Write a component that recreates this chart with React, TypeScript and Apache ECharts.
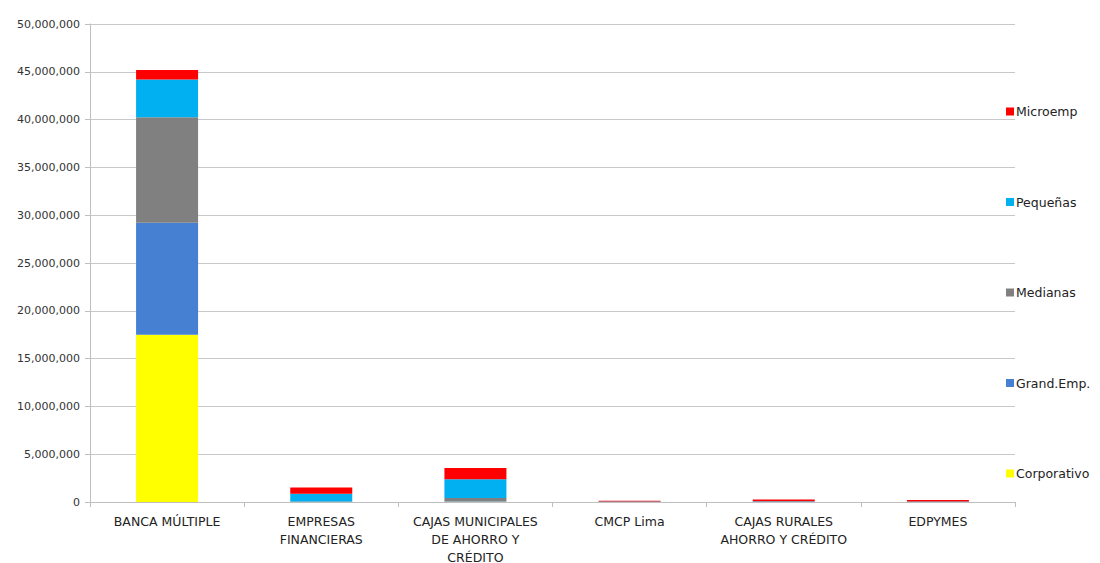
import React, { useEffect, useRef } from "react";
import * as echarts from "echarts";

const categories = [
  "BANCA MÚLTIPLE",
  "EMPRESAS\nFINANCIERAS",
  "CAJAS MUNICIPALES\nDE AHORRO Y\nCRÉDITO",
  "CMCP Lima",
  "CAJAS RURALES\nAHORRO Y CRÉDITO",
  "EDPYMES",
];
const corporativo = [17500000, 0, 20000, 0, 0, 0];
const grandEmp = [11700000, 0, 50000, 0, 0, 0];
const medianas = [11050000, 50000, 350000, 10000, 20000, 10000];
const pequenas = [3950000, 800000, 1950000, 30000, 60000, 40000];
const microemp = [1000000, 660000, 1180000, 100000, 170000, 150000];

const FONT = "DejaVu Sans";

export default function App() {
  const ref = useRef<HTMLDivElement>(null);
  useEffect(() => {
    const chart = echarts.init(ref.current!, null, { renderer: "svg" });
    const mk = (name: string, data: number[], color: string) => ({
      name,
      type: "bar",
      stack: "total",
      data,
      barWidth: 62,
      itemStyle: { color },
    });
    chart.setOption({
      animation: false,
      backgroundColor: "#ffffff",
      textStyle: { fontFamily: FONT },
      grid: {
        left: 90,
        right: 85,
        top: 24,
        bottom: 61,
        containLabel: false,
        outerBoundsMode: "none",
      },
      legend: {
        orient: "vertical",
        left: 1001,
        top: 100,
        itemWidth: 8,
        itemHeight: 8,
        itemGap: 77.5,
        icon: "rect",
        textStyle: { fontFamily: FONT, fontSize: 12.5, color: "#222", padding: [0, 0, 0, -3] },
        data: ["Microemp", "Pequeñas", "Medianas", "Grand.Emp.", "Corporativo"],
      },
      xAxis: {
        type: "category",
        data: categories,
        axisLine: { lineStyle: { color: "#bfbfbf" } },
        axisTick: { show: true, length: 5, lineStyle: { color: "#bfbfbf" } },
        axisLabel: { fontFamily: FONT, fontSize: 12.5, color: "#222", lineHeight: 18, margin: 10, interval: 0 },
      },
      yAxis: {
        type: "value",
        min: 0,
        max: 50000000,
        interval: 5000000,
        axisLine: { show: true, lineStyle: { color: "#bfbfbf" } },
        axisTick: { show: true, length: 5, lineStyle: { color: "#bfbfbf" } },
        axisLabel: {
          fontFamily: FONT,
          fontSize: 11,
          color: "#333",
          margin: 10,
          formatter: (v: number) => v.toLocaleString("en-US"),
        },
        splitLine: { lineStyle: { color: "#c8c8c8" } },
      },
      series: [
        mk("Corporativo", corporativo, "#FFFF00"),
        mk("Grand.Emp.", grandEmp, "#4580D2"),
        mk("Medianas", medianas, "#808080"),
        mk("Pequeñas", pequenas, "#00B0F0"),
        mk("Microemp", microemp, "#FF0000"),
      ],
    });
    return () => chart.dispose();
  }, []);
  return (
    <div
      ref={ref}
      style={{ position: "fixed", left: 0, top: 0, width: 1100, height: 563 }}
    />
  );
}
